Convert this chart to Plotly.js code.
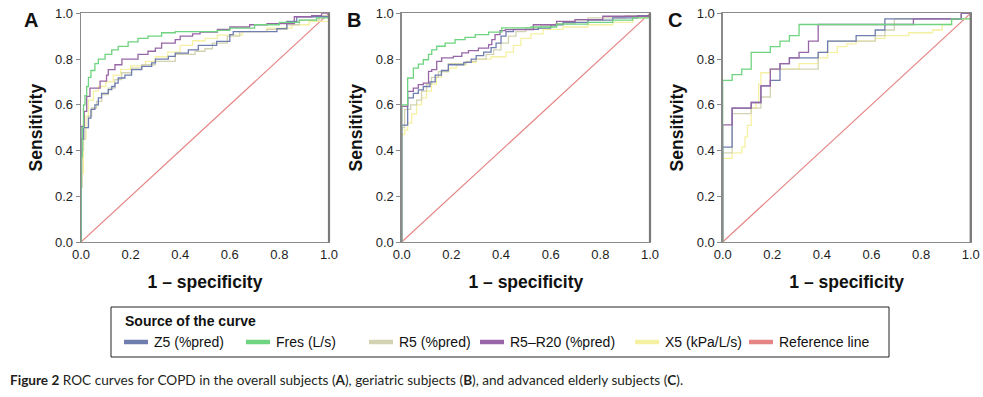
<!DOCTYPE html>
<html>
<head>
<meta charset="utf-8">
<script src="https://cdn.plot.ly/plotly-3.0.1.min.js"></script>
<style>html,body{margin:0;padding:0;background:#fff;}#chart{width:983px;height:397px;}</style>
</head>
<body>
<div id="chart"></div>
<script>
// ---------- DATA ----------
const seriesNames = ["Z5 (%pred)", "Fres (L/s)", "R5 (%pred)", "R5\u2013R20 (%pred)", "X5 (kPa/L/s)", "Reference line"];
const panelLetters = ["A", "B", "C"];
const xTicks = [0.0, 0.2, 0.4, 0.6, 0.8, 1.0];

// Panel A: overall subjects
const A_Z5_x   = [0,0,0.01,0.03,0.04,0.056,0.07,0.083,0.11,0.124,0.137,0.15,0.177,0.204,0.245,0.285,0.3,0.352,0.38,0.433,0.473,0.547,0.6,0.614,0.79,0.83,0.87,1];
const A_Z5_y   = [0,0.45,0.5,0.542,0.58,0.6,0.63,0.65,0.666,0.68,0.695,0.717,0.73,0.754,0.768,0.783,0.8,0.812,0.826,0.84,0.86,0.877,0.907,0.92,0.933,0.965,0.985,1];
const A_Fres_x = [0,0,0.005,0.01,0.016,0.023,0.03,0.04,0.056,0.07,0.097,0.124,0.15,0.19,0.23,0.27,0.325,0.38,0.55,0.6,0.7,0.8,0.88,0.95,1];
const A_Fres_y = [0,0.37,0.5,0.6,0.64,0.68,0.72,0.75,0.78,0.8,0.82,0.84,0.855,0.875,0.89,0.9,0.915,0.92,0.925,0.935,0.95,0.96,0.97,0.98,1];
const A_R5_x   = [0,0,0.005,0.01,0.016,0.03,0.043,0.063,0.083,0.11,0.137,0.164,0.204,0.245,0.3,0.38,0.46,0.5,0.53,0.59,0.64,0.75,0.83,0.88,0.96,1];
const A_R5_y   = [0,0.24,0.4,0.45,0.5,0.55,0.586,0.615,0.644,0.673,0.71,0.74,0.76,0.775,0.79,0.82,0.834,0.845,0.87,0.9,0.92,0.93,0.95,0.97,0.99,1];
const A_R520_x = [0,0,0.013,0.023,0.036,0.077,0.103,0.11,0.137,0.165,0.23,0.27,0.3,0.325,0.38,0.4,0.45,0.48,0.55,0.6,0.68,0.75,0.86,0.93,0.97,1];
const A_R520_y = [0,0.506,0.571,0.637,0.673,0.703,0.73,0.754,0.775,0.8,0.82,0.834,0.848,0.87,0.885,0.9,0.91,0.918,0.93,0.94,0.95,0.955,0.985,0.99,1,1];
const A_X5_x   = [0,0,0.01,0.02,0.03,0.05,0.07,0.1,0.13,0.16,0.2,0.26,0.3,0.35,0.4,0.45,0.5,0.55,0.65,0.75,0.85,0.92,1];
const A_X5_y   = [0,0.3,0.45,0.55,0.62,0.66,0.68,0.7,0.73,0.755,0.77,0.79,0.81,0.83,0.86,0.88,0.89,0.905,0.92,0.935,0.95,0.965,1];

// Panel B: geriatric subjects
const B_Z5_x   = [0,0,0.024,0.047,0.067,0.087,0.114,0.135,0.16,0.188,0.25,0.28,0.3,0.33,0.36,0.38,0.4,0.42,0.45,0.55,0.6,0.65,0.75,0.85,0.95,1];
const B_Z5_y   = [0,0.511,0.63,0.65,0.665,0.68,0.7,0.73,0.75,0.775,0.785,0.8,0.815,0.83,0.85,0.87,0.9,0.92,0.93,0.935,0.95,0.96,0.97,0.98,0.99,1];
const B_Fres_x = [0,0,0.024,0.047,0.067,0.087,0.108,0.121,0.141,0.175,0.215,0.255,0.296,0.35,0.403,0.52,0.624,0.75,0.85,0.93,1];
const B_Fres_y = [0,0.6,0.717,0.76,0.778,0.797,0.82,0.84,0.856,0.87,0.885,0.895,0.907,0.918,0.936,0.94,0.953,0.96,0.97,0.98,1];
const B_R5_x   = [0,0,0.012,0.036,0.06,0.08,0.1,0.12,0.148,0.188,0.26,0.3,0.34,0.37,0.4,0.43,0.46,0.5,0.56,0.62,0.7,0.75,0.9,1];
const B_R5_y   = [0,0.5,0.58,0.6,0.62,0.66,0.69,0.72,0.745,0.78,0.79,0.8,0.82,0.84,0.87,0.9,0.92,0.935,0.945,0.955,0.97,0.98,0.99,1];
const B_R520_x = [0,0,0.024,0.047,0.067,0.087,0.108,0.121,0.141,0.161,0.208,0.242,0.269,0.309,0.35,0.363,0.376,0.396,0.417,0.53,0.624,0.698,0.81,1];
const B_R520_y = [0,0.593,0.659,0.673,0.688,0.695,0.746,0.754,0.79,0.805,0.812,0.827,0.837,0.848,0.863,0.885,0.907,0.924,0.929,0.95,0.965,0.972,0.987,1];
const B_X5_x   = [0,0,0.012,0.024,0.04,0.06,0.08,0.1,0.12,0.14,0.16,0.19,0.22,0.26,0.3,0.36,0.42,0.45,0.48,0.52,0.57,0.65,0.75,0.85,0.93,1];
const B_X5_y   = [0,0.47,0.49,0.52,0.56,0.6,0.63,0.66,0.69,0.72,0.745,0.76,0.775,0.785,0.8,0.81,0.83,0.86,0.89,0.91,0.93,0.94,0.95,0.96,0.98,1];

// Panel C: advanced elderly subjects
const C_Z5_x   = [0,0,0.038,0.115,0.154,0.192,0.231,0.269,0.385,0.423,0.538,0.615,0.654,0.962,1];
const C_Z5_y   = [0,0.415,0.585,0.61,0.683,0.707,0.78,0.805,0.829,0.878,0.902,0.927,0.976,1,1];
const C_Fres_x = [0,0,0.038,0.077,0.115,0.192,0.231,0.269,0.308,0.923,1];
const C_Fres_y = [0,0.707,0.732,0.756,0.829,0.854,0.878,0.902,0.951,0.976,1];
const C_R5_x   = [0,0,0.038,0.115,0.154,0.192,0.385,0.423,0.615,0.654,0.692,0.962,1];
const C_R5_y   = [0,0.39,0.561,0.585,0.634,0.756,0.829,0.878,0.902,0.927,0.976,1,1];
const C_R520_x = [0,0,0.038,0.115,0.154,0.192,0.231,0.269,0.308,0.346,0.385,0.769,0.962,1];
const C_R520_y = [0,0.512,0.585,0.61,0.683,0.756,0.78,0.805,0.829,0.878,0.951,0.976,1,1];
const C_X5_x   = [0,0,0.038,0.077,0.09,0.1,0.115,0.135,0.145,0.154,0.192,0.308,0.385,0.423,0.462,0.5,0.538,0.615,0.654,0.75,0.846,0.885,0.923,1];
const C_X5_y   = [0,0.366,0.39,0.415,0.46,0.51,0.586,0.61,0.69,0.74,0.756,0.78,0.805,0.829,0.854,0.866,0.878,0.89,0.902,0.915,0.927,0.951,0.976,1];

const refX = [0, 1];
const refY = [0, 1];

const captionText = "<b>Figure 2</b> ROC curves for COPD in the overall subjects (<b>A</b>), geriatric subjects (<b>B</b>), and advanced elderly subjects (<b>C</b>).";

// ---------- STYLE ----------
const colors = {Z5:"#6f7daf", Fres:"#6fd47f", R5:"#d3d3b3", R520:"#9865a6", X5:"#f6f1a2", Ref:"#e58484"};
const W = 983, H = 397;
const px = x => x / W;
const py = y => 1 - y / H;

const panels = [
  {Z5:[A_Z5_x,A_Z5_y], Fres:[A_Fres_x,A_Fres_y], R5:[A_R5_x,A_R5_y], R520:[A_R520_x,A_R520_y], X5:[A_X5_x,A_X5_y]},
  {Z5:[B_Z5_x,B_Z5_y], Fres:[B_Fres_x,B_Fres_y], R5:[B_R5_x,B_R5_y], R520:[B_R520_x,B_R520_y], X5:[B_X5_x,B_X5_y]},
  {Z5:[C_Z5_x,C_Z5_y], Fres:[C_Fres_x,C_Fres_y], R5:[C_R5_x,C_R5_y], R520:[C_R520_x,C_R520_y], X5:[C_X5_x,C_X5_y]}
];
const drawOrder = ["X5","R5","Z5","R520","Fres"];
const keyName = {Z5:seriesNames[0], Fres:seriesNames[1], R5:seriesNames[2], R520:seriesNames[3], X5:seriesNames[4]};

const traces = [];
panels.forEach((p, i) => {
  const xa = i === 0 ? "x" : "x" + (i + 1);
  const ya = i === 0 ? "y" : "y" + (i + 1);
  traces.push({x: refX, y: refY, xaxis: xa, yaxis: ya, mode: "lines", name: seriesNames[5],
    line: {color: colors.Ref, width: 1.2}, showlegend: false, hoverinfo: "skip"});
  drawOrder.forEach(k => {
    traces.push({x: p[k][0], y: p[k][1], xaxis: xa, yaxis: ya, mode: "lines", name: keyName[k],
      line: {color: colors[k], width: 1.3, shape: "hv"}, showlegend: false});
  });
});

const xDomains = [[81, 329], [401.7, 650], [722.7, 970.7]];
const yDom = [py(242), py(13.3)];
const tickFont = {family: "Liberation Sans, Arial, sans-serif", size: 13, color: "#1e1e1e"};
const titleFont = {family: "Liberation Sans, Arial, sans-serif", size: 17.5, color: "#111", weight: "bold"};

const layout = {
  width: W, height: H, margin: {l: 0, r: 0, t: 0, b: 0},
  paper_bgcolor: "#fff", plot_bgcolor: "#fff", showlegend: false,
  shapes: [], annotations: []
};
xDomains.forEach((d, i) => {
  const s = i === 0 ? "" : String(i + 1);
  layout["xaxis" + s] = {
    domain: [px(d[0]), px(d[1])], anchor: "y" + s, range: [0, 1],
    tickvals: xTicks, tickformat: ".1f", showgrid: false, zeroline: false,
    showline: true, mirror: true, linecolor: "#8a8a8a", linewidth: 1.3,
    ticks: "", tickfont: tickFont,
    title: {text: "1 \u2013 specificity", font: titleFont, standoff: 14}, automargin: false
  };
  layout["yaxis" + s] = {
    domain: yDom, anchor: "x" + s, range: [0, 1],
    tickvals: xTicks, tickformat: ".1f", showgrid: false, zeroline: false,
    showline: true, mirror: true, linecolor: "#8a8a8a", linewidth: 1.3,
    ticks: "outside", ticklen: 4, tickcolor: "#8a8a8a", tickfont: tickFont,
    title: {text: "Sensitivity", font: titleFont, standoff: 8}, automargin: false
  };
  // thicker right frame edge
  layout.shapes.push({type: "line", xref: "x" + s + " domain", yref: "y" + s + " domain",
    x0: 1, x1: 1, y0: 0, y1: 1, line: {color: "#7a7a7a", width: 2.2}});
  // panel letter
  layout.annotations.push({text: "<b>" + panelLetters[i] + "</b>", xref: "paper", yref: "paper",
    x: px([31, 354, 675][i]), y: py(20), xanchor: "center", yanchor: "middle", showarrow: false,
    font: {family: "Liberation Sans, Arial, sans-serif", size: 20, color: "#111"}});
});

// legend box (manual, matching the reference's fixed columns)
layout.shapes.push({type: "rect", xref: "paper", yref: "paper", x0: px(111), x1: px(889), y0: py(357), y1: py(307),
  line: {color: "#222", width: 1}, fillcolor: "rgba(0,0,0,0)"});
layout.annotations.push({text: "<b>Source of the curve</b>", xref: "paper", yref: "paper", x: px(123), y: py(321),
  xanchor: "left", yanchor: "middle", showarrow: false,
  font: {family: "Liberation Sans, Arial, sans-serif", size: 14, color: "#111"}});
const legendKeys = ["Z5","Fres","R5","R520","X5","Ref"];
const legendTextX = [152, 274, 397, 508, 663, 777];
legendKeys.forEach((k, i) => {
  const tx = legendTextX[i];
  layout.shapes.push({type: "line", xref: "paper", yref: "paper", x0: px(tx - 28), x1: px(tx - 4), y0: py(342), y1: py(342),
    line: {color: colors[k], width: 4.5}});
  layout.annotations.push({text: seriesNames[i], xref: "paper", yref: "paper", x: px(tx), y: py(342),
    xanchor: "left", yanchor: "middle", showarrow: false,
    font: {family: "Liberation Sans, Arial, sans-serif", size: 14, color: "#111"}});
});

// caption
layout.annotations.push({text: captionText, xref: "paper", yref: "paper", x: px(8), y: py(380),
  xanchor: "left", yanchor: "middle", showarrow: false,
  font: {family: "Lato, 'Open Sans', sans-serif", size: 13.6, color: "#231f20"}});

Plotly.newPlot("chart", traces, layout, {staticPlot: true, displayModeBar: false});
</script>
</body>
</html>
